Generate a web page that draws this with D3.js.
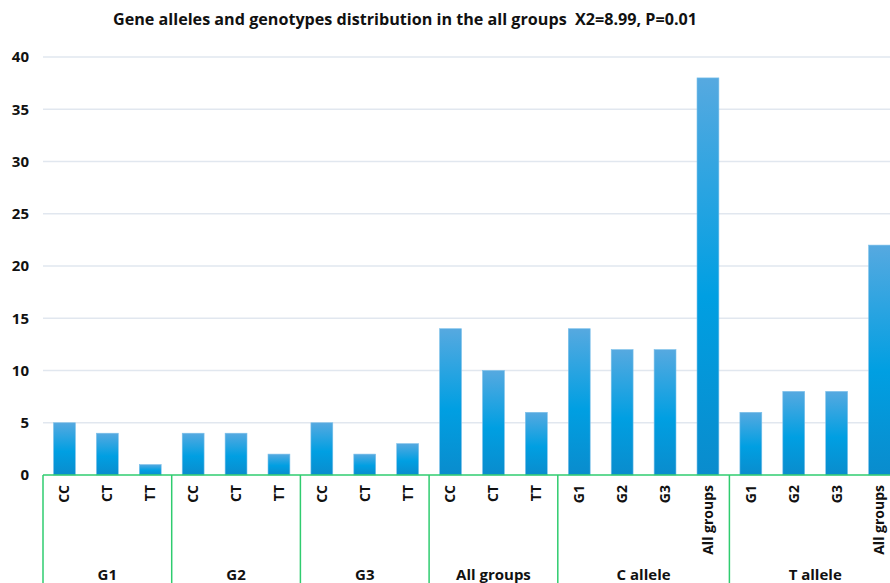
<!DOCTYPE html>
<html>
<head>
<meta charset="utf-8">
<script src="https://cdn.jsdelivr.net/npm/d3@7"></script>
<style>
  body { margin: 0; background: #fff; overflow: hidden; }
  svg text { font-family: "Open Sans", "Noto Sans", sans-serif; font-weight: bold; fill: #111; }
</style>
</head>
<body>
<svg id="chart"></svg>
<script>
// data
var groups = ['G1', 'G2', 'G3', 'All groups', 'C allele', 'T allele'];
var subLabels = [
    ['CC', 'CT', 'TT'],
    ['CC', 'CT', 'TT'],
    ['CC', 'CT', 'TT'],
    ['CC', 'CT', 'TT'],
    ['G1', 'G2', 'G3', 'All groups'],
    ['G1', 'G2', 'G3', 'All groups']
];
var values = [
    [5, 4, 1],
    [4, 4, 2],
    [5, 2, 3],
    [14, 10, 6],
    [14, 12, 12, 38],
    [6, 8, 8, 22]
];
var yTicks = [0, 5, 10, 15, 20, 25, 30, 35, 40];
var title = 'Gene alleles and genotypes distribution in the all groups  X2=8.99, P=0.01';

var width = 890;
var height = 583;
var left = 43;
var step = 42.9;
var y0 = 475;
var yTop = 57;

// flatten to one row per bar
var rows = [];
groups.forEach(function (g, gi) {
    subLabels[gi].forEach(function (s, si) {
        rows.push({ key: gi + '-' + si, group: g, label: s, value: values[gi][si] });
    });
});

var xs = d3.scaleBand()
    .domain(rows.map(function (d) { return d.key; }))
    .range([left, left + rows.length * step])
    .paddingInner(0.49)
    .paddingOuter(0.245);

var ys = d3.scaleLinear().domain([0, 40]).range([y0, yTop]);

var svg = d3.select('#chart').attr('width', width).attr('height', height);

var grad = svg.append('defs').append('linearGradient')
    .attr('id', 'barGrad')
    .attr('x1', 0).attr('y1', 0).attr('x2', 0).attr('y2', 1);
grad.append('stop').attr('offset', '0%').attr('stop-color', '#56a9e0');
grad.append('stop').attr('offset', '55%').attr('stop-color', '#009fe2');
grad.append('stop').attr('offset', '100%').attr('stop-color', '#0a8ccd');

// gridlines
svg.append('g').selectAll('line').data(yTicks.filter(function (t) { return t > 0; }))
    .enter().append('line')
    .attr('x1', left).attr('x2', width)
    .attr('y1', function (d) { return ys(d); })
    .attr('y2', function (d) { return ys(d); })
    .attr('stroke', '#e1e7ef')
    .attr('stroke-width', 1.5);

// y labels
svg.append('g').selectAll('text').data(yTicks)
    .enter().append('text')
    .attr('x', 29)
    .attr('y', function (d) { return ys(d); })
    .attr('dy', '0.35em')
    .attr('text-anchor', 'end')
    .style('font-size', '15px')
    .text(function (d) { return d; });

// bars
svg.append('g').selectAll('rect').data(rows)
    .enter().append('rect')
    .attr('x', function (d) { return xs(d.key); })
    .attr('width', xs.bandwidth())
    .attr('y', function (d) { return ys(d.value); })
    .attr('height', function (d) { return y0 - ys(d.value); })
    .attr('fill', 'url(#barGrad)')
    .attr('stroke', '#7cc0ea')
    .attr('stroke-width', 0.6);

// category labels, rotated
svg.append('g').selectAll('text').data(rows)
    .enter().append('text')
    .attr('transform', function (d) {
        return 'translate(' + (xs(d.key) + xs.bandwidth() / 2) + ',485) rotate(-90)';
    })
    .attr('dy', '0.35em')
    .attr('text-anchor', 'end')
    .style('font-size', '14px')
    .text(function (d) { return d.label; });

// group boxes
var green = '#2fcc6f';
var bounds = [];
var idx = 0;
groups.forEach(function (g, gi) {
    var start = left + idx * step;
    idx += subLabels[gi].length;
    bounds.push({ name: g, x0: start, x1: left + idx * step });
});

svg.append('line')
    .attr('x1', left).attr('x2', left + rows.length * step)
    .attr('y1', y0).attr('y2', y0)
    .attr('stroke', green).attr('stroke-width', 1.5);

svg.append('g').selectAll('line').data([left].concat(bounds.map(function (b) { return b.x1; })))
    .enter().append('line')
    .attr('x1', function (d) { return d; })
    .attr('x2', function (d) { return d; })
    .attr('y1', y0).attr('y2', height)
    .attr('stroke', green).attr('stroke-width', 1.5);

svg.append('g').selectAll('text').data(bounds)
    .enter().append('text')
    .attr('x', function (d) { return (d.x0 + d.x1) / 2; })
    .attr('y', 580)
    .attr('text-anchor', 'middle')
    .style('font-size', '15px')
    .text(function (d) { return d.name; });

// title (keep the double space before X2)
svg.append('text')
    .attr('x', 405)
    .attr('y', 25)
    .attr('text-anchor', 'middle')
    .style('font-size', '16px')
    .style('white-space', 'pre')
    .attr('textLength', 584)
    .attr('lengthAdjust', 'spacingAndGlyphs')
    .text(title);
</script>
</body>
</html>
